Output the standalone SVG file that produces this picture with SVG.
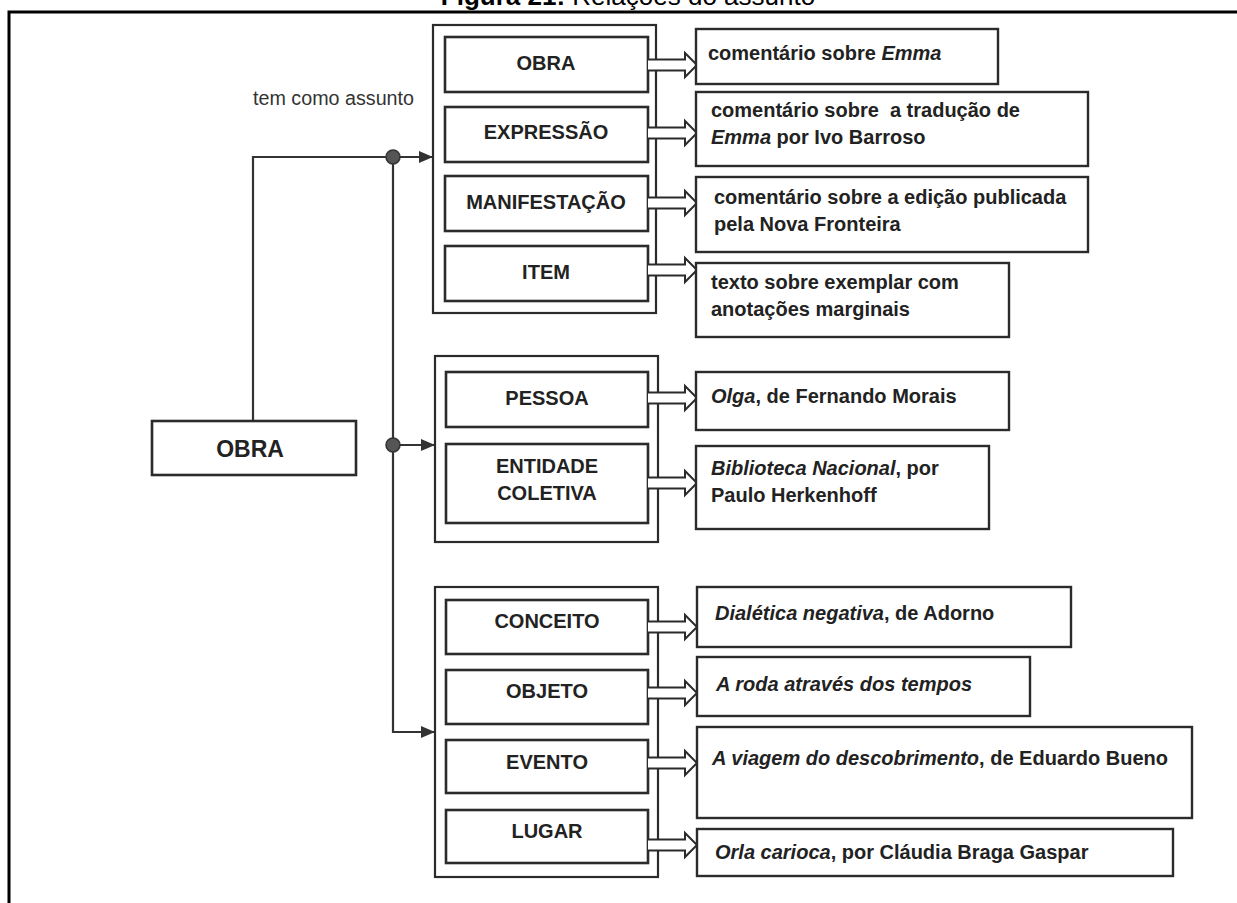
<svg xmlns="http://www.w3.org/2000/svg" width="1237" height="903" viewBox="0 0 1237 903">
<style>
.bg{fill:#ffffff}
.frame{fill:none;stroke:#000;stroke-width:3}
.cont{fill:none;stroke:#2b2b2b;stroke-width:2.2}
.box{fill:#fff;stroke:#2b2b2b;stroke-width:2.6}
.res{fill:#fff;stroke:#2b2b2b;stroke-width:2.4}
.lbl{font-family:"Liberation Sans",Arial,sans-serif;font-weight:bold;font-size:20px;fill:#222;text-anchor:middle}
.txt{font-family:"Liberation Sans",Arial,sans-serif;font-weight:bold;font-size:20px;fill:#222}
.it{font-style:italic}
.harrow{fill:#fff;stroke:#2b2b2b;stroke-width:2;stroke-linejoin:miter}
.conn{fill:none;stroke:#333;stroke-width:2.2}
.dot{fill:#555;stroke:#333;stroke-width:1.5}
</style>
<defs>
<marker id="ah" markerUnits="userSpaceOnUse" markerWidth="15" markerHeight="12" refX="14" refY="6" orient="auto">
<path d="M0,0 L14,6 L0,12 z" fill="#333"/>
</marker>
</defs>
<rect class="bg" x="0" y="0" width="1237" height="903"/>
<path class="frame" d="M9,905 V12 H1240"/>
<text x="628" y="5" font-family="'Liberation Sans',Arial,sans-serif" font-size="26" text-anchor="middle" fill="#000"><tspan font-weight="bold">Figura 21:</tspan> Relações do assunto</text>

<g id="connectors">
<path class="conn" d="M253,421 V157 H433" marker-end="url(#ah)"/>
<path class="conn" d="M393,157 V732 H435" marker-end="url(#ah)"/>
<path class="conn" d="M393,445 H435" marker-end="url(#ah)"/>
<circle class="dot" cx="393" cy="157" r="7"/>
<circle class="dot" cx="393" cy="445" r="7"/>
<text x="253" y="105" font-family="'Liberation Sans',Arial,sans-serif" font-size="19.5" fill="#333" textLength="161" lengthAdjust="spacingAndGlyphs">tem como assunto</text>
</g>

<g id="obra-main">
<rect class="box" x="152" y="421" width="204" height="54"/>
<text x="250" y="457" font-family="'Liberation Sans',Arial,sans-serif" font-weight="bold" font-size="23" fill="#222" text-anchor="middle">OBRA</text>
</g>

<g id="grupo1">
<rect class="cont" x="433" y="25" width="223" height="288"/>
</g>
<g id="g1-obra">
<rect class="box" x="445" y="37" width="203" height="55"/>
<text class="lbl" x="546" y="70">OBRA</text>
<path class="harrow" d="M648,59.5 H685 V53 L697,65 L685,77 V70.5 H648"/>
</g>
<g id="g1-expressao">
<rect class="box" x="445" y="107" width="203" height="55"/>
<text class="lbl" x="546" y="139">EXPRESSÃO</text>
<path class="harrow" d="M648,127.5 H685 V121 L697,133 L685,145 V138.5 H648"/>
</g>
<g id="g1-manifestacao">
<rect class="box" x="445" y="176" width="203" height="55"/>
<text class="lbl" x="546" y="209">MANIFESTAÇÃO</text>
<path class="harrow" d="M648,197.5 H685 V191 L697,203 L685,215 V208.5 H648"/>
</g>
<g id="g1-item">
<rect class="box" x="445" y="246" width="203" height="55"/>
<text class="lbl" x="546" y="279">ITEM</text>
<path class="harrow" d="M648,264.5 H685 V258 L697,270 L685,282 V275.5 H648"/>
</g>

<g id="r-obra">
<rect class="res" x="696" y="29" width="302" height="55"/>
<text class="txt" x="708" y="60">comentário sobre <tspan class="it">Emma</tspan></text>
</g>
<g id="r-expressao">
<rect class="res" x="696" y="92" width="392" height="74"/>
<text class="txt" x="711" y="117" xml:space="preserve">comentário sobre  a tradução de</text>
<text class="txt" x="711" y="144"><tspan class="it">Emma</tspan> por Ivo Barroso</text>
</g>
<g id="r-manifestacao">
<rect class="res" x="696" y="177" width="392" height="75"/>
<text class="txt" x="714" y="204">comentário sobre a edição publicada</text>
<text class="txt" x="714" y="231">pela Nova Fronteira</text>
</g>
<g id="r-item">
<rect class="res" x="696" y="263" width="313" height="74"/>
<text class="txt" x="711" y="289">texto sobre exemplar com</text>
<text class="txt" x="711" y="316">anotações marginais</text>
</g>

<g id="grupo2">
<rect class="cont" x="435" y="356" width="223" height="186"/>
</g>
<g id="g2-pessoa">
<rect class="box" x="446" y="372" width="202" height="55"/>
<text class="lbl" x="547" y="405">PESSOA</text>
<path class="harrow" d="M648,392.5 H685 V386 L697,398 L685,410 V403.5 H648"/>
</g>
<g id="g2-entidade">
<rect class="box" x="446" y="444" width="202" height="79"/>
<text class="lbl" x="547" y="473">ENTIDADE</text>
<text class="lbl" x="547" y="500">COLETIVA</text>
<path class="harrow" d="M648,477.5 H685 V471 L697,483 L685,495 V488.5 H648"/>
</g>
<g id="r-pessoa">
<rect class="res" x="696" y="372" width="313" height="58"/>
<text class="txt" x="711" y="403"><tspan class="it">Olga</tspan>, de Fernando Morais</text>
</g>
<g id="r-entidade">
<rect class="res" x="696" y="446" width="293" height="83"/>
<text class="txt" x="711" y="475"><tspan class="it">Biblioteca Nacional</tspan>, por</text>
<text class="txt" x="711" y="502">Paulo Herkenhoff</text>
</g>

<g id="grupo3">
<rect class="cont" x="435" y="587" width="223" height="290"/>
</g>
<g id="g3-conceito">
<rect class="box" x="446" y="600" width="202" height="54"/>
<text class="lbl" x="547" y="628">CONCEITO</text>
<path class="harrow" d="M648,621.5 H685 V615 L697,627 L685,639 V632.5 H648"/>
</g>
<g id="g3-objeto">
<rect class="box" x="446" y="670" width="202" height="54"/>
<text class="lbl" x="547" y="698">OBJETO</text>
<path class="harrow" d="M648,687.5 H685 V681 L697,693 L685,705 V698.5 H648"/>
</g>
<g id="g3-evento">
<rect class="box" x="446" y="740" width="202" height="53"/>
<text class="lbl" x="547" y="769">EVENTO</text>
<path class="harrow" d="M648,757.5 H685 V751 L697,763 L685,775 V768.5 H648"/>
</g>
<g id="g3-lugar">
<rect class="box" x="446" y="810" width="202" height="53"/>
<text class="lbl" x="547" y="838">LUGAR</text>
<path class="harrow" d="M648,839.5 H685 V833 L697,845 L685,857 V850.5 H648"/>
</g>
<g id="r-conceito">
<rect class="res" x="697" y="587" width="374" height="60"/>
<text class="txt" x="715" y="620"><tspan class="it">Dialética negativa</tspan>, de Adorno</text>
</g>
<g id="r-objeto">
<rect class="res" x="697" y="657" width="333" height="59"/>
<text class="txt it" x="716" y="691">A roda através dos tempos</text>
</g>
<g id="r-evento">
<rect class="res" x="697" y="727" width="495" height="91"/>
<text class="txt" x="712" y="765"><tspan class="it">A viagem do descobrimento</tspan>, de Eduardo Bueno</text>
</g>
<g id="r-lugar">
<rect class="res" x="697" y="829" width="476" height="47"/>
<text class="txt" x="715" y="859"><tspan class="it">Orla carioca</tspan>, por Cláudia Braga Gaspar</text>
</g>
</svg>
